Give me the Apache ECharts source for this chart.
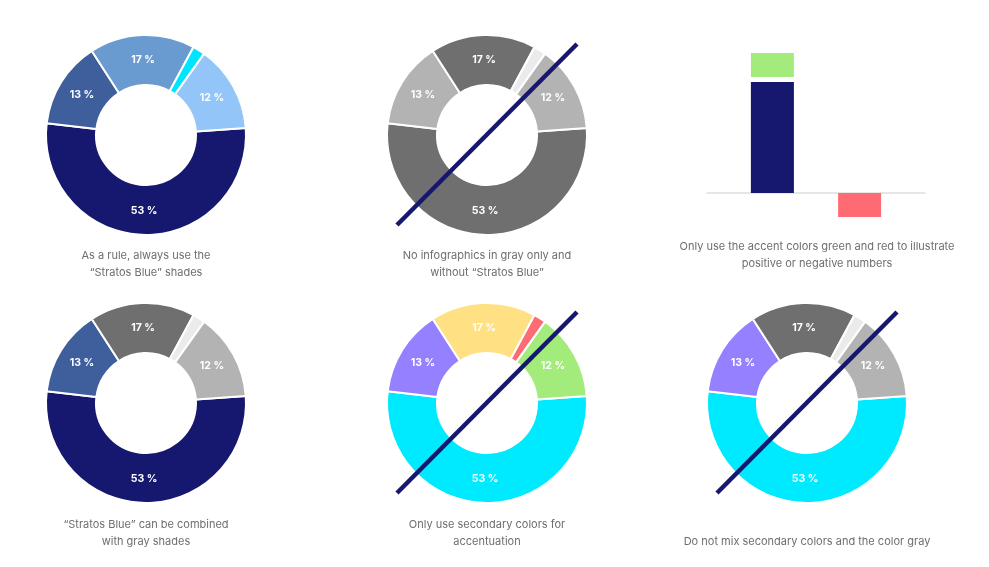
<!DOCTYPE html>
<html>
<head>
<meta charset="utf-8">
<script src="https://cdn.jsdelivr.net/npm/echarts@6/dist/echarts.min.js"></script>
<style>
html,body{margin:0;padding:0;background:#fff;}
#chart{width:989px;height:567px;}
</style>
</head>
<body>
<div id="chart"></div>
<script>
// ---- data ----
var sliceNames = ['Share A', 'Share B', 'Share C', 'Share D', 'Share E'];
var sliceValues = [53, 14, 17, 2, 14];
var sliceLabels = ['53 %', '13 %', '17 %', '', '12 %'];

var barCategories = ['', 'Positive', '', 'Negative', ''];
var baseValues = [null, 4.6, null, null, null];
var spacerValues = [null, 0.2, null, null, null];
var gainValues = [null, 1, null, null, null];
var lossValues = [null, null, null, -1, null];

var captions = [
  'As a rule, always use the\n\u201cStratos Blue\u201d shades',
  'No infographics in gray only and\nwithout \u201cStratos Blue\u201d',
  'Only use the accent colors green and red to illustrate\npositive or negative numbers',
  '\u201cStratos Blue\u201d can be combined\nwith gray shades',
  'Only use secondary colors for\naccentuation',
  'Do not mix secondary colors and the color gray'
];

// ---- styles ----
var NAVY = '#15186e';
var palettes = [
  [NAVY, '#3e5f9c', '#6a9bd0', '#00e5ff', '#93c5f8'],
  ['#6f6f6f', '#b3b3b3', '#6f6f6f', '#ebebeb', '#b3b3b3'],
  [NAVY, '#3e5f9c', '#6f6f6f', '#ebebeb', '#b3b3b3'],
  ['#00eaff', '#9580ff', '#ffe082', '#ff6b72', '#a3eb7b'],
  ['#00eaff', '#9580ff', '#6f6f6f', '#ebebeb', '#b3b3b3']
];
var centers = [[146, 135], [487, 135], [146, 403], [487, 403], [807, 403]];
var crossed = [false, true, false, true, true];

var FONT = 'Inter, "Noto Sans", sans-serif';

var series = [];
centers.forEach(function (c, i) {
  // rings
  series.push({
    type: 'pie',
    center: c,
    radius: [50, 100],
    startAngle: 4,
    clockwise: true,
    silent: true,
    animation: false,
    label: { show: false },
    labelLine: { show: false },
    itemStyle: { borderColor: '#fff', borderWidth: 2 },
    data: sliceValues.map(function (v, k) {
      return { name: sliceNames[k], value: v, itemStyle: { color: palettes[i][k] } };
    })
  });
  // label layer (same values, transparent)
  series.push({
    type: 'pie',
    center: c,
    radius: [50, 95],
    startAngle: 4,
    clockwise: true,
    silent: true,
    animation: false,
    z: 5,
    label: {
      show: true,
      position: 'inside',
      color: '#fff',
      fontFamily: FONT,
      fontWeight: 'bold',
      fontSize: 10.5,
      formatter: function (p) { return sliceLabels[p.dataIndex]; }
    },
    labelLine: { show: false },
    itemStyle: { color: 'rgba(0,0,0,0)', borderWidth: 0 },
    data: sliceValues.map(function (v, k) {
      return { name: sliceNames[k], value: v };
    })
  });
});

var barWidth = 43;
series.push(
  { type: 'bar', stack: 's', barWidth: barWidth, data: baseValues, itemStyle: { color: NAVY }, silent: true, animation: false },
  { type: 'bar', stack: 's', barWidth: barWidth, data: spacerValues, itemStyle: { color: 'rgba(0,0,0,0)' }, silent: true, animation: false },
  { type: 'bar', stack: 's', barWidth: barWidth, data: gainValues, itemStyle: { color: '#a3eb7b' }, silent: true, animation: false },
  { type: 'bar', stack: 's', barWidth: barWidth, data: lossValues, itemStyle: { color: '#ff6b72' }, silent: true, animation: false }
);

var captionPos = [[146, 247], [487, 247], [817, 238], [146, 516], [487, 516], [807, 533]];
var graphics = [];
captions.forEach(function (t, i) {
  graphics.push({
    type: 'text',
    x: captionPos[i][0],
    y: captionPos[i][1],
    z: 100,
    style: {
      text: t,
      textAlign: 'center',
      textVerticalAlign: 'top',
      fill: '#6e6e6e',
      font: '11px ' + FONT,
      lineHeight: 17
    }
  });
});
centers.forEach(function (c, i) {
  if (!crossed[i]) return;
  graphics.push({
    type: 'line',
    z: 100,
    shape: { x1: c[0] - 90, y1: c[1] + 90, x2: c[0] + 90, y2: c[1] - 91 },
    style: { stroke: NAVY, lineWidth: 4.5 }
  });
});

var chart = echarts.init(document.getElementById('chart'), null, { renderer: 'canvas' });
chart.setOption({
  backgroundColor: '#fff',
  animation: false,
  grid: { left: 707, width: 218, top: 53, height: 164 },
  xAxis: {
    type: 'category',
    data: barCategories,
    boundaryGap: true,
    axisLine: { show: true, onZero: true, lineStyle: { color: '#dedede', width: 1.5 } },
    axisTick: { show: false },
    axisLabel: { show: false },
    splitLine: { show: false }
  },
  yAxis: {
    type: 'value',
    min: -1,
    max: 5.8,
    show: false,
    splitLine: { show: false }
  },
  series: series,
  graphic: graphics
});
</script>
</body>
</html>
